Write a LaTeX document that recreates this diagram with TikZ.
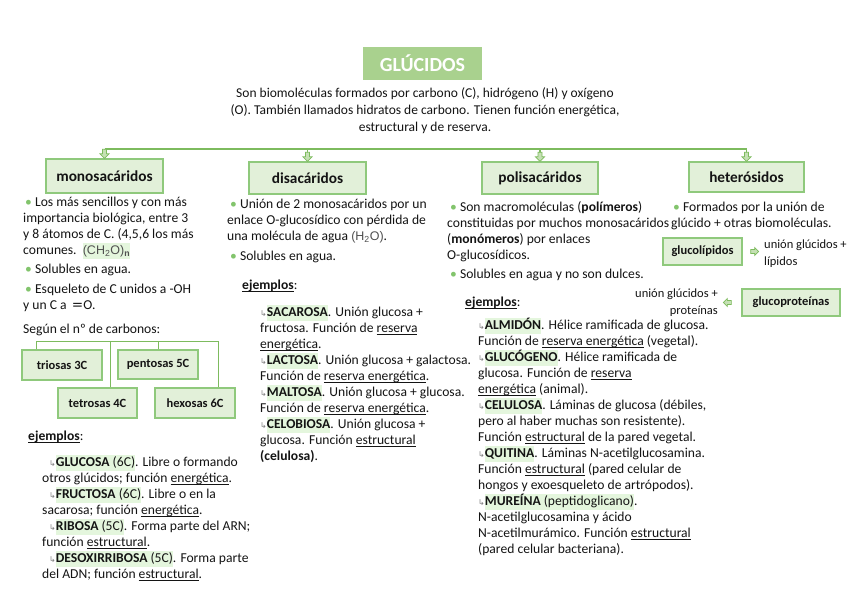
\documentclass[tikz,border=0pt]{standalone}
\usepackage{fontspec}
\setmainfont{Carlito}
\newfontfamily\symfont{DejaVu Sans}
\newfontfamily\formfont{Liberation Sans}
\definecolor{boxfill}{HTML}{E2F0D9}
\definecolor{boxdraw}{HTML}{8FC97C}
\definecolor{titlefill}{HTML}{A9D18E}
\definecolor{conngreen}{HTML}{7DBB5E}
\definecolor{hlgreen}{HTML}{E4F6DD}
\definecolor{bulgreen}{HTML}{82C46C}
\definecolor{arrowgray}{HTML}{808080}
\definecolor{textdark}{HTML}{141414}
\definecolor{formgray}{HTML}{505050}
\definecolor{arrfill}{HTML}{C5E0B4}
\newcommand{\myul}[1]{\setbox0\hbox{#1}\rlap{\rule[-2pt]{\wd0}{0.7pt}}\box0\relax}
\newcommand{\hlg}[1]{{\setlength{\fboxsep}{0pt}\colorbox{hlgreen}{\strut #1}}}
\newcommand{\arr}{{\symfont\fontsize{8}{8}\selectfont\color{arrowgray}↳}}
\newcommand{\bul}{{\color{bulgreen}\textbullet}\ }
\newcommand{\ind}{\hspace{7pt}}
\begin{document}
\begin{tikzpicture}[x=1pt,y=-1pt,
  cat/.style={draw=boxdraw, fill=boxfill, line width=1.3pt, text=textdark,
    font=\fontsize{15.3}{17}\selectfont\bfseries, minimum width=117pt, minimum height=32pt, inner sep=0pt},
  subbox/.style={cat, font=\fontsize{12.5}{15}\selectfont\bfseries, minimum width=80pt, minimum height=30pt},
  txt/.style={anchor=north west, inner sep=0pt, align=left, text=textdark, font=\fontsize{13.6}{16}\selectfont},
  conn/.style={draw=conngreen, line width=1.3pt},
  thinconn/.style={draw=conngreen, line width=1pt},
  arrowst/.style={draw=conngreen, fill=arrfill, line width=0.7pt, line join=miter},
  darrow/.pic={\draw[arrowst] (0,0) -- (-4.5,-4.5) -- (-2,-4.5) -- (-2,-9) -- (2,-9) -- (2,-4.5) -- (4.5,-4.5) -- cycle;},
  rarrow/.pic={\draw[arrowst] (0,0) -- (-4,-4) -- (-4,-2) -- (-8,-2) -- (-8,2) -- (-4,2) -- (-4,4) -- cycle;},
  larrow/.pic={\draw[arrowst] (0,0) -- (4,-4) -- (4,-2) -- (8,-2) -- (8,2) -- (4,2) -- (4,4) -- cycle;}
]
\fill[white] (0,0) rectangle (848,604);
\useasboundingbox (0,0) rectangle (848,604);

% title
\node[fill=titlefill, text=white, font=\fontsize{20}{22}\selectfont\bfseries,
  minimum width=119pt, minimum height=33pt, inner sep=0pt] (title) at (422.5,63.5) {GLÚCIDOS};
\node[anchor=north, inner sep=0pt, align=center, text=textdark, font=\fontsize{13.5}{17}\selectfont] (intro) at (425,85)
 {\strut Son biomoléculas formados por carbono (C), hidrógeno (H) y oxígeno\\
  (O). También llamados hidratos de carbono. Tienen función energética,\\
  estructural y de reserva.};

% category boxes
\node[cat, minimum height=34pt] (mono) at (104.5,176) {monosacáridos};
\node[cat] (dis) at (307.5,178) {disacáridos};
\node[cat, minimum width=116pt] (poli) at (540,178) {polisacáridos};
\node[cat, minimum width=115pt, minimum height=30pt] (het) at (746.5,177) {heterósidos};

% top connectors
\coordinate (hub) at (0,149);
\draw[conn] (mono.north |- hub) -- (het.north |- hub);
\foreach \b in {mono,dis,poli,het}{
  \draw[conn] (\b.north |- hub) -- ([yshift=8pt]\b.north);
  \pic at (\b.north) {darrow};
}

% monosacaridos
\node[txt] (monotext) at (23,195)
 {\strut\hspace{2pt}\bul Los más sencillos y con más\\
  importancia biológica, entre 3\\
  y 8 átomos de C. (4,5,6 los más\\
  comunes.\ \ \hlg{{\formfont\color{formgray}\fontsize{12.5}{16}\selectfont (CH\textsubscript{2}O)\textsubscript{\textbf{n}}}}\\[3pt]
  \hspace{2pt}\bul Solubles en agua.\\[4pt]
  \hspace{2pt}\bul Esqueleto de C unidos a -OH\\
  y un C a \,{\symfont =}O.\\[8pt]
  Según el nº de carbonos:};

\node[subbox] (triosas) at (62,365) {triosas 3C};
\node[subbox, minimum height=29pt] (pentosas) at (158,364.5) {pentosas 5C};
\node[subbox, minimum width=79pt] (tetrosas) at (97.5,403) {tetrosas 4C};
\node[subbox] (hexosas) at (195,403) {hexosas 6C};
\coordinate (subbar) at (0,341);
\coordinate (c1) at ([xshift=15pt]triosas.north west);
\coordinate (c2) at ([xshift=-17pt]hexosas.north east);
\coordinate (c3) at ([xshift=12.5pt]tetrosas.north);
\draw[thinconn] (c1) -- (c1 |- subbar) -- (c2 |- subbar) -- (c2);
\draw[thinconn] (c3 |- subbar) -- (c3);
\draw[thinconn] (pentosas.north |- subbar) -- (pentosas.north);

\node[txt] (monoej) at (28,429) {\strut\textbf{\myul{ejemplos}}:};
\node[txt] (monoex) at (42,455)
 {\strut\ind\arr\hlg{\textbf{GLUCOSA} (6C)}. Libre o formando\\
  otros glúcidos; función \myul{energética}.\\
  \ind\arr\hlg{\textbf{FRUCTOSA} (6C)}. Libre o en la\\
  sacarosa; función \myul{energética}.\\
  \ind\arr\hlg{\textbf{RIBOSA} (5C)}. Forma parte del ARN;\\
  función \myul{estructural}.\\
  \ind\arr\hlg{\textbf{DESOXIRRIBOSA} (5C)}. Forma parte\\
  del ADN; función \myul{estructural}.};

% disacaridos
\node[txt] (distext) at (227,197)
 {\strut\hspace{3pt}\bul Unión de 2 monosacáridos por un\\
  enlace O-glucosídico con pérdida de\\
  una molécula de agua {\formfont\color{formgray}\fontsize{12.5}{16}\selectfont(H\textsubscript{2}O)}.\\[4pt]
  \hspace{3pt}\bul Solubles en agua.};
\node[txt] (disej) at (242,278) {\strut\textbf{\myul{ejemplos}}:};
\node[txt] (disex) at (260,305)
 {\strut\arr\hlg{\textbf{SACAROSA}}. Unión glucosa +\\
  fructosa. Función de \myul{reserva}\\
  \myul{energética}.\\
  \arr\hlg{\textbf{LACTOSA}}. Unión glucosa + galactosa.\\
  Función de \myul{reserva energética}.\\
  \arr\hlg{\textbf{MALTOSA}}. Unión glucosa + glucosa.\\
  Función de \myul{reserva energética}.\\
  \arr\hlg{\textbf{CELOBIOSA}}. Unión glucosa +\\
  glucosa. Función \myul{estructural}\\
  \textbf{(celulosa)}.};

% polisacaridos
\node[txt] (politext) at (447,200)
 {\strut\hspace{3pt}\bul Son macromoléculas (\textbf{polímeros})\\
  constituidas por muchos monosacáridos\\
  (\textbf{monómeros}) por enlaces\\
  O-glucosídicos.\\[3pt]
  \hspace{3pt}\bul Solubles en agua y no son dulces.};
\node[txt] (poliej) at (465,295) {\strut\textbf{\myul{ejemplos}}:};
\node[txt] (poliex) at (478,318)
 {\strut\arr\hlg{\textbf{ALMIDÓN}}. Hélice ramificada de glucosa.\\
  Función de \myul{reserva energética} (vegetal).\\
  \arr\hlg{\textbf{GLUCÓGENO}}. Hélice ramificada de\\
  glucosa. Función de \myul{reserva}\\
  \myul{energética} (animal).\\
  \arr\hlg{\textbf{CELULOSA}}. Láminas de glucosa (débiles,\\
  pero al haber muchas son resistente).\\
  Función \myul{estructural} de la pared vegetal.\\
  \arr\hlg{\textbf{QUITINA}}. Láminas N-acetilglucosamina.\\
  Función \myul{estructural} (pared celular de\\
  hongos y exoesqueleto de artrópodos).\\
  \arr\hlg{\textbf{MUREÍNA} (peptidoglicano)}.\\
  N-acetilglucosamina y ácido\\
  N-acetilmurámico. Función \myul{estructural}\\
  (pared celular bacteriana).};

% heterosidos
\node[txt] (hettext) at (671,200)
 {\strut\hspace{2pt}\bul Formados por la unión de\\
  glúcido + otras biomoléculas.};
\node[subbox, minimum width=79pt, minimum height=27pt] (glucolip) at (702.5,251.5) {glucolípidos};
\node[subbox, minimum width=98pt, minimum height=27pt] (glucoprot) at (791,302.5) {glucoproteínas};
\pic at ([xshift=16pt]glucolip.east) {rarrow};
\pic at ([xshift=-18pt]glucoprot.west) {larrow};
\node[txt, font=\fontsize{12.5}{17}\selectfont] (liptext) at (764,236)
 {\strut unión glúcidos +\\lípidos};
\node[txt, anchor=north east, align=right, font=\fontsize{12.5}{17}\selectfont] (prottext) at (718,285)
 {\strut unión glúcidos +\\proteínas};
\end{tikzpicture}
\end{document}
